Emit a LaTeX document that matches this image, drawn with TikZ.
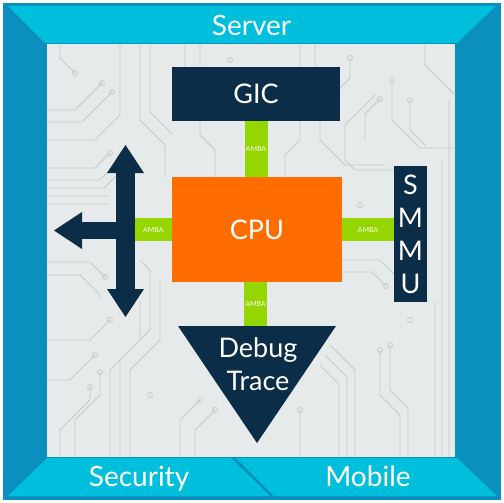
\documentclass[tikz,border=0pt]{standalone}
\usepackage{fontspec}
\setmainfont{Lato}
\usetikzlibrary{arrows.meta}
\definecolor{frameblue}{HTML}{0A8FBE}
\definecolor{bandcyan}{HTML}{00BFDD}
\definecolor{navy}{HTML}{0C2D48}
\definecolor{cpuorange}{HTML}{FF6C00}
\definecolor{ambagreen}{HTML}{95D500}
\definecolor{panelgrey}{HTML}{E6EAEA}
\definecolor{tracegrey}{HTML}{C4C8C8}

\begin{document}
\begin{tikzpicture}[x=1pt,y=-1pt,
  >={Triangle[width=37pt,length=28pt,line width=0pt]},
  block/.style={fill=navy,text=white,inner sep=0pt,font=\fontsize{27}{33}\selectfont},
  bandtext/.style={text=white,anchor=base,font=\fontsize{28}{30}\selectfont},
  amba/.style={draw=ambagreen,line width=23pt},
  ambatext/.style={text=white,inner sep=0pt,font=\fontsize{7}{8}\selectfont},
  bus/.style={draw=navy,line width=19pt},
  trace/.style={draw=tracegrey,line width=0.8pt}]
\useasboundingbox (0,0) rectangle (504,503);
\fill[frameblue] (3,3) rectangle (501,500);
\fill[panelgrey] (47,44) rectangle (455,457);
\fill[bandcyan] (8,6) -- (496,6) -- (457,43) -- (45,43) -- cycle;
\fill[bandcyan] (47,458) -- (231,458) -- (270,496) -- (8,496) -- cycle;
\fill[bandcyan] (236,458) -- (457,458) -- (497,496) -- (274,496) -- cycle;

\draw[trace] (47,110) -- (75,110) -- (102,83) circle (2.5pt)
  (47,122) -- (82,122) -- (112,92) circle (2.5pt)
  (47,140) -- (95,140) -- (120,115) -- (120,44) (60,44) -- (60,58) -- (75,73) circle (2.5pt)
  (47,180) -- (100,180) -- (125,155) (47,188) -- (104,188) -- (125,167)
  (47,196) -- (108,196) (47,204) -- (108,204) (47,168) -- (95,168) -- (110,153) circle (2.5pt)
  (47,262) -- (90,262) -- (105,277) circle (2.5pt) (47,275) -- (80,275) -- (100,295) -- (100,300)
  (140,44) -- (140,120) -- (165,145) -- (165,177) (150,44) -- (150,112) -- (172,134)
  (140,260) -- (150,270) -- (150,330) -- (120,360) -- (120,457)
  (140,300) -- (140,340) -- (110,370) -- (110,457) (160,282) -- (160,340) -- (130,370) -- (130,457)
  (47,340) -- (90,340) -- (110,320) circle (2.5pt) (47,380) -- (70,380) -- (95,355) circle (2.5pt)
  (75,457) -- (75,420) -- (100,395) -- (100,372) circle (2.5pt) (60,457) -- (60,430) -- (90,400) -- (90,387) circle (2.5pt)
  (180,457) -- (180,420) -- (200,400) circle (2.5pt) (195,457) -- (195,430) -- (215,410) circle (2.5pt)
  (330,345) -- (355,370) -- (355,457) (325,355) -- (347,377) -- (347,457) (320,365) -- (339,384) -- (339,457)
  (380,350) circle (2.5pt) -- (380,395) -- (400,415) -- (400,457) (390,345) circle (2.5pt) -- (390,390) -- (408,408) -- (408,457)
  (300,410) circle (2.5pt) -- (300,457) (435,302) -- (435,457) (442,160) -- (442,457) (449,100) -- (449,457)
  (392,80) circle (2.5pt) -- (392,120) -- (420,148) -- (455,148) (410,100) circle (2.5pt) -- (410,130) -- (425,145)
  (380,99) circle (2.5pt) -- (365,114) -- (365,140) (350,58) circle (2.5pt) -- (350,78) -- (340,88)
  (425,44) -- (425,65) -- (455,95) (375,95) -- (345,125) -- (345,160) -- (355,170) -- (394,170)
  (200,121) -- (200,135) -- (215,150) -- (215,177) (300,121) -- (300,140) -- (285,155) -- (285,177)
  (320,121) -- (320,140) -- (345,165) -- (385,165) (185,44) -- (185,67) (200,44) -- (200,67)
  (300,44) -- (300,67) (315,44) -- (315,67) (342,260) -- (380,260) -- (394,274) (342,272) -- (372,272) -- (386,286) circle (2.5pt)
  (150,395) circle (2.5pt) (410,320) circle (2.5pt) (230,60) circle (2.5pt) (360,205) circle (2.5pt);

\node[block,minimum width=168pt,minimum height=54pt] (gic) at (256,94) {GIC};
\node[block,fill=cpuorange,minimum width=170pt,minimum height=105pt] (cpu) at (257,229.5) {CPU};
\node[block,align=center,minimum width=33pt,minimum height=136pt] (smmu) at (410.5,234) {S\\M\\M\\U};
\coordinate (dleft) at (178,326);
\coordinate (dright) at (336,326);
\coordinate (dtip) at (257,443);
\coordinate (dtop) at (255.5,326);
\fill[navy] (dleft) -- (dright) -- (dtip) -- cycle;
\node[block,fill=none,align=center] (debug) at (258,364.5) {Debug\\Trace};
\coordinate (bustop) at (125.5,145);
\coordinate (busbot) at (125.5,317);
\coordinate (busleft) at (54,230.5);

\draw[amba] (gic.south) -- (gic.south |- cpu.north) node[ambatext,midway] {AMBA};
\draw[amba] (cpu.east) -- (cpu.east -| smmu.west) node[ambatext,midway] {AMBA};
\draw[amba] (cpu.south -| dtop) -- (dtop) node[ambatext,midway] {AMBA};
\draw[amba] (cpu.west) -- (cpu.west -| bustop) node[ambatext,pos=.4] {AMBA};
\draw[bus,<->] (bustop) -- (busbot);
\draw[bus,line width=17pt,->] (bustop |- busleft) -- (busleft);

\node[bandtext] (server) at (251.5,35.7) {Server};
\node[bandtext] (security) at (139,486.7) {Security};
\node[bandtext] (mobile) at (368,486.7) {Mobile};
\end{tikzpicture}
\end{document}
